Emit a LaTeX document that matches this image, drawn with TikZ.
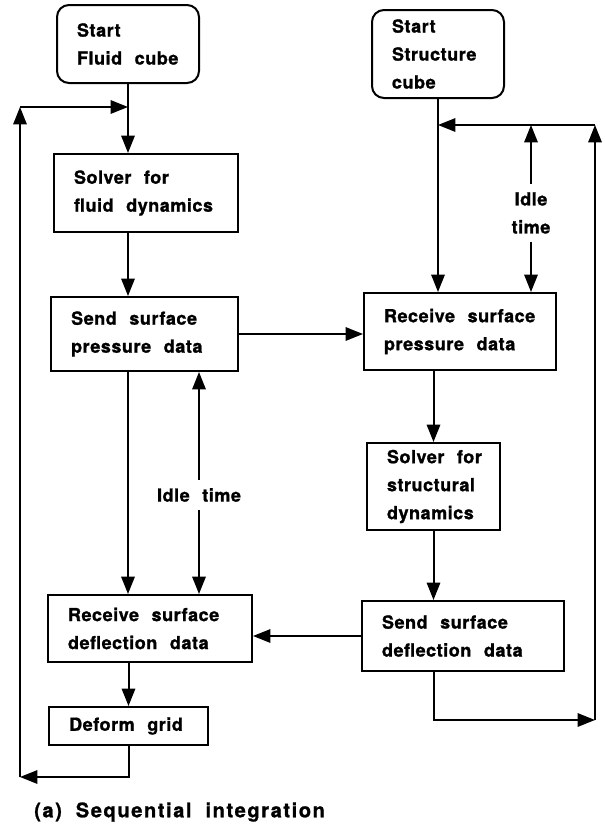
\documentclass[tikz,border=0pt]{standalone}
\usepackage{fontspec}
\setmainfont{TeX Gyre Heros}[BoldFeatures={FakeBold=1.2}]
\usetikzlibrary{arrows.meta}
\newcommand{\blkfont}{\fontsize{13.5pt}{21pt}\selectfont\bfseries\addfontfeatures{LetterSpace=3}}
\newcommand{\ws}{\nobreak\hspace{0.7em}\nobreak}
\tikzset{
  blk/.style={draw,line width=1.5pt,align=left,inner xsep=15pt,inner ysep=0pt,font=\blkfont},
  startblk/.style={blk,rounded corners=9pt},
  arr/.style={line width=1.5pt,-{Triangle[length=13pt,width=10pt]}},
  lbl/.style={font=\blkfont,align=center,inner xsep=2pt,inner ysep=6pt},
  capt/.style={font=\fontsize{15pt}{18pt}\selectfont\bfseries\addfontfeatures{LetterSpace=8},inner sep=0pt},
}

\begin{document}
\begin{tikzpicture}[x=0.75pt,y=-0.75pt]
  \useasboundingbox (0,0) rectangle (605,828);
  % ---------- fluid cube ----------
  \node[startblk,text width=76.5pt,minimum height=58.5pt] (fstart) at (128,44) {Start\\Fluid\ws cube};
  \node[blk,text width=108pt,minimum height=58.5pt] (fsolve) at (146,193) {Solver\ws for\\fluid\ws dynamics};
  \node[blk,text width=110pt,minimum height=55.5pt] (fsend) at (144.5,334) {Send\ws surface\\pressure\ws data};
  \node[blk,text width=123pt,minimum height=50.25pt] (frecv) at (150,628.5) {Receive\ws surface\\deflection\ws data};
  \node[blk,text width=89pt,minimum height=28.5pt] (fdeform) at (128.5,726) {Deform\ws grid};
  \node[lbl] (idleF) at (199,495) {Idle\ws time};
  % ---------- structure cube ----------
  \node[startblk,text width=69pt,minimum height=66pt] (sstart) at (438,54) {Start\\Structure\\cube};
  \node[blk,text width=114pt,minimum height=57.75pt] (srecv) at (460,331.5) {Receive\ws surface\\pressure\ws data};
  \node[blk,text width=69.75pt,minimum height=65.25pt] (ssolve) at (433.5,486.5) {Solver\ws for\\structural\\dynamics};
  \node[blk,text width=121.5pt,minimum height=52.5pt] (ssend) at (463,636) {Send\ws surface\\deflection\ws data};
  \node[lbl] (idleS) at (531,213) {Idle\\time};
  % ---------- loop corners ----------
  \coordinate (ltop) at (20,107);
  \coordinate (lbot) at (20,777);
  \coordinate (rtop) at (595,125);
  \coordinate (rbot) at (595,720);
  % ---------- connectors, fluid side ----------
  \draw[arr] (fstart.south) -- (fstart.south |- fsolve.north);
  \draw[arr] (fsolve.south -| fstart.south) -- (fstart.south |- fsend.north);
  \draw[arr] (fsend.south -| fstart.south) -- (fstart.south |- frecv.north);
  \draw[arr] (frecv.south -| fdeform.north) -- (fdeform.north);
  \draw[arr] (idleF.north) -- (idleF.north |- fsend.south);
  \draw[arr] (idleF.south) -- (idleF.south |- frecv.north);
  \draw[arr] (fdeform.south) |- (lbot);
  \draw[arr] (lbot) -- (ltop);
  \draw[arr] (ltop) -- (ltop -| fstart.south);
  % ---------- connectors, structure side ----------
  \draw[arr] (sstart.south) -- (sstart.south |- srecv.north);
  \draw[arr] (srecv.south -| ssolve.north) -- (ssolve.north);
  \draw[arr] (ssolve.south) -- (ssolve.south |- ssend.north);
  \draw[arr] (idleS.north) -- (idleS.north |- rtop);
  \draw[arr] (idleS.south) -- (idleS.south |- srecv.north);
  \draw[arr] (ssolve.south |- ssend.south) |- (rbot);
  \draw[arr] (rbot) -- (rtop);
  \draw[arr] (rtop) -- (rtop -| sstart.south);
  % ---------- data exchange ----------
  \draw[arr] (fsend.east) -- (fsend.east -| srecv.west);
  \draw[arr] (ssend.west) -- (ssend.west -| frecv.east);
  % ---------- caption ----------
  \node[capt,anchor=west] (cap) at (34,812) {(a)\ws Sequential\ws integration};
\end{tikzpicture}
\end{document}
